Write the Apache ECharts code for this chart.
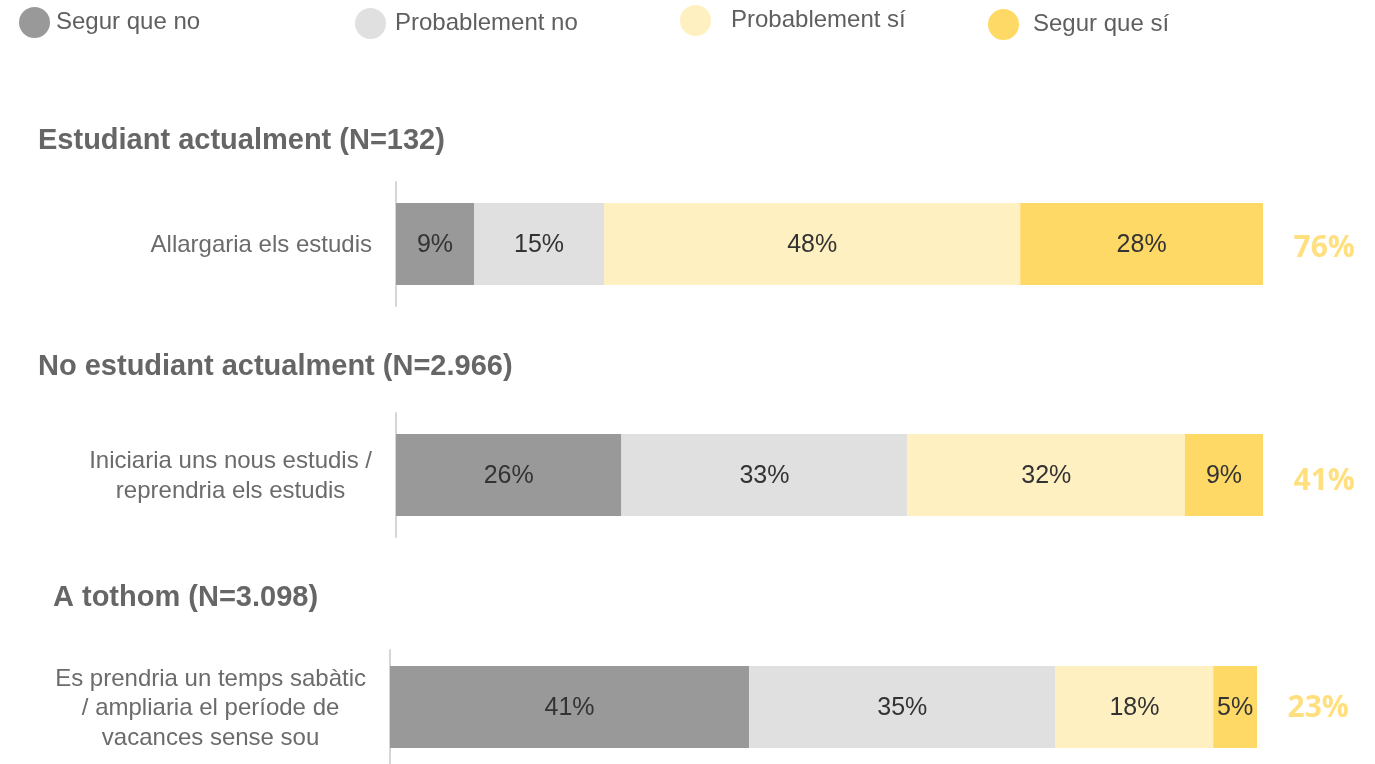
<!DOCTYPE html>
<html>
<head>
<meta charset="utf-8">
<script src="https://cdn.jsdelivr.net/npm/echarts@6/dist/echarts.min.js"></script>
<style>
html,body{margin:0;padding:0;background:#fff;}
#chart{width:1375px;height:764px;}
</style>
</head>
<body>
<div id="chart"></div>
<script>
// ---- data ----
const seriesNames = ['Segur que no', 'Probablement no', 'Probablement sí', 'Segur que sí'];
const groupTitles = ['Estudiant actualment (N=132)', 'No estudiant actualment (N=2.966)', 'A tothom (N=3.098)'];
const categories = [
  'Allargaria els estudis',
  'Iniciaria uns nous estudis /\nreprendria els estudis',
  'Es prendria un temps sabàtic\n/ ampliaria el període de\nvacances sense sou'
];
const segurQueNo = [9, 26, 41];
const probablementNo = [15, 33, 35];
const probablementSi = [48, 32, 18];
const segurQueSi = [28, 9, 5];

// ---- styling ----
const colors = ['#999999', '#e0e0e0', '#fff0c2', '#ffd966'];
const FONT = '"Liberation Sans", Arial, Helvetica, sans-serif';
const gridLayout = [
  {left: 396, top: 182, width: 867, height: 124},
  {left: 396, top: 413, width: 867, height: 124},
  {left: 390, top: 650, width: 867, height: 114}
];
const titlePos = [{left: 38, top: 126}, {left: 38, top: 352}, {left: 53, top: 583}];
const legendLayout = [
  {left: 19, top: 7, pad: 1},
  {left: 355, top: 8, pad: 4},
  {left: 680, top: 5, pad: 15},
  {left: 988, top: 9, pad: 9}
];
const totalOffsets = [[0, 4], [0, 6], [0, 1]];

const values = [segurQueNo, probablementNo, probablementSi, segurQueSi];

const grids = [], xAxes = [], yAxes = [], series = [], titles = [], legends = [];

groupTitles.forEach((t, g) => {
  titles.push({
    text: t, left: titlePos[g].left, top: titlePos[g].top, padding: 0,
    textStyle: {fontFamily: FONT, fontSize: 29, fontWeight: 'bold', color: '#666666'}
  });
  grids.push(Object.assign({containLabel: false}, gridLayout[g]));
  const total = values.reduce((s, arr) => s + arr[g], 0);
  xAxes.push({
    type: 'value', gridIndex: g, min: 0, max: total,
    show: false
  });
  yAxes.push({
    type: 'category', gridIndex: g, data: [categories[g]],
    axisTick: {show: false},
    axisLine: {show: true, lineStyle: {color: '#d6d6d6', width: 2}},
    axisLabel: {
      margin: 24,
      padding: [3, 0, 0, 0],
      formatter: function (v) {
        return v.split('\n').map(l => '{c|' + l + '}').join('\n');
      },
      rich: {
        c: {align: 'center', fontFamily: FONT, fontSize: 24, color: '#6b6b6b', lineHeight: 29.5}
      }
    }
  });
  seriesNames.forEach((n, i) => {
    series.push({
      type: 'bar', name: n, stack: 'g' + g, xAxisIndex: g, yAxisIndex: g,
      barWidth: 82,
      itemStyle: {color: colors[i]},
      data: [values[i][g]],
      label: {
        show: true, position: 'inside', formatter: '{c}%', offset: [0, 1],
        fontFamily: FONT, fontSize: 25, color: '#333333'
      },
      emphasis: {disabled: true}
    });
  });
  const yes = probablementSi[g] + segurQueSi[g];
  series.push({
    type: 'scatter', xAxisIndex: g, yAxisIndex: g,
    symbolSize: 1, itemStyle: {color: 'rgba(0,0,0,0)'},
    data: [[total, 0]],
    clip: false,
    label: {
      show: true, position: 'right', distance: 30, offset: totalOffsets[g],
      formatter: yes + '%',
      fontFamily: '"Open Sans", Lato, sans-serif', fontSize: 30, fontWeight: 'bold', color: '#ffd75e'
    },
    emphasis: {disabled: true},
    silent: true
  });
});

seriesNames.forEach((n, i) => {
  const L = legendLayout[i];
  legends.push({
    data: [n], left: L.left, top: L.top, padding: 0,
    icon: 'circle', itemWidth: 31, itemHeight: 31,
    selectedMode: false,
    textStyle: {fontFamily: FONT, fontSize: 24, color: '#5f5f5f', padding: [0, 0, 0, L.pad]}
  });
});

const chart = echarts.init(document.getElementById('chart'));
chart.setOption({
  animation: false,
  backgroundColor: '#ffffff',
  color: colors,
  title: titles,
  legend: legends,
  grid: grids,
  xAxis: xAxes,
  yAxis: yAxes,
  series: series
});
</script>
</body>
</html>
